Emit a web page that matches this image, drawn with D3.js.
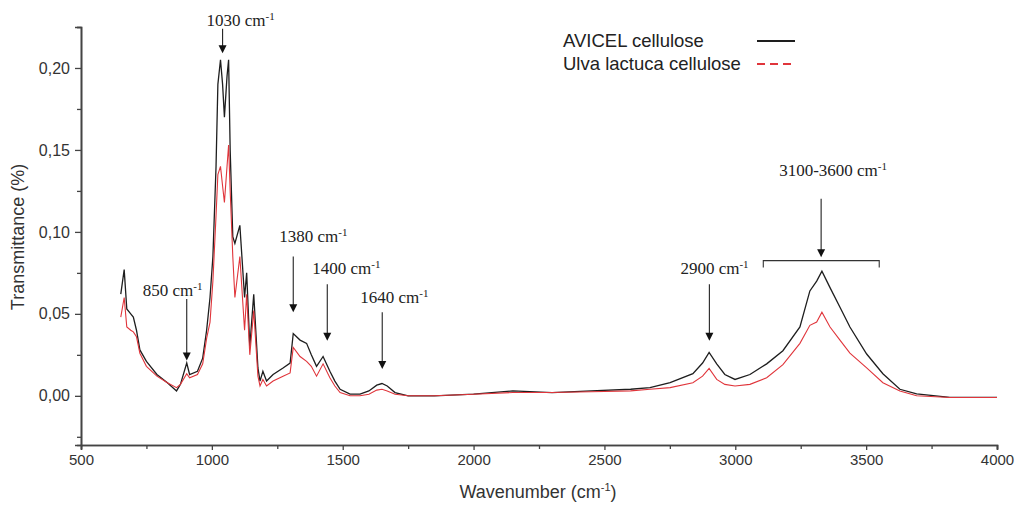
<!DOCTYPE html>
<html lang="en">
<head>
    <meta charset="UTF-8">
    <title>FTIR spectra</title>
    <script src="https://d3js.org/d3.v7.min.js"></script>
    <style>
        body { margin: 0; background: #fff; }
        text { font-family: "Liberation Sans", Arial, sans-serif; }
    </style>
</head>
<body>
    <script>
        // wavenumber grid (cm-1) shared by both spectra
        const wavenumbers = [652, 665, 675, 690, 700, 712, 725, 750, 790, 830, 865, 880, 904, 915, 945, 965, 980, 993,
                             1004, 1016, 1023, 1033, 1041, 1048, 1058, 1064, 1070, 1080, 1088, 1107, 1125, 1133, 1145, 1160,
                             1176, 1184, 1195, 1209, 1234, 1272, 1299, 1311, 1337, 1362, 1380, 1400, 1425, 1451, 1470,
                             1490, 1528, 1566, 1600, 1630, 1650, 1670, 1700, 1750, 1850, 2000, 2150, 2300, 2450, 2600,
                             2674, 2751, 2838, 2875, 2900, 2929, 2960, 2999, 3056, 3120, 3182, 3247, 3285, 3311, 3331,
                             3362, 3400, 3438, 3502, 3564, 3629, 3693, 3820, 4000];

        const avicel = [0.062, 0.077, 0.053, 0.050, 0.048, 0.040, 0.028, 0.021, 0.013, 0.008, 0.003, 0.007, 0.020, 0.013, 0.015, 0.023, 0.040, 0.060,
                        0.085, 0.140, 0.190, 0.205, 0.190, 0.170, 0.195, 0.205, 0.150, 0.097, 0.093, 0.104, 0.060, 0.075, 0.030, 0.062,
                        0.017, 0.009, 0.015, 0.009, 0.013, 0.017, 0.020, 0.038, 0.034, 0.032, 0.025, 0.018, 0.024, 0.015, 0.009,
                        0.004, 0.001, 0.001, 0.003, 0.0065, 0.0075, 0.006, 0.002, 0.000, 0.000, 0.001, 0.003, 0.002, 0.003, 0.004,
                        0.005, 0.008, 0.0135, 0.020, 0.0265, 0.0195, 0.013, 0.010, 0.013, 0.0195, 0.0275, 0.042, 0.064, 0.070, 0.076,
                        0.066, 0.054, 0.042, 0.0255, 0.0135, 0.004, 0.0012, -0.001, -0.001];

        const ulva = [0.048, 0.060, 0.042, 0.040, 0.039, 0.036, 0.026, 0.018, 0.012, 0.008, 0.005, 0.007, 0.0135, 0.011, 0.013, 0.0195, 0.035, 0.045,
                      0.070, 0.110, 0.135, 0.140, 0.128, 0.118, 0.140, 0.153, 0.125, 0.085, 0.060, 0.085, 0.040, 0.062, 0.025, 0.052,
                      0.012, 0.006, 0.010, 0.006, 0.009, 0.012, 0.014, 0.0295, 0.024, 0.021, 0.018, 0.012, 0.0195, 0.011, 0.006,
                      0.002, 0.000, 0.000, 0.001, 0.0035, 0.004, 0.003, 0.001, 0.000, 0.000, 0.001, 0.002, 0.002, 0.0025, 0.003,
                      0.004, 0.005, 0.008, 0.012, 0.0167, 0.010, 0.007, 0.006, 0.007, 0.011, 0.019, 0.032, 0.043, 0.045, 0.051,
                      0.042, 0.034, 0.026, 0.017, 0.008, 0.003, 0.000, -0.001, -0.001];

        const seriesNames = ["AVICEL cellulose", "Ulva lactuca cellulose"];
        const xTicks = [500, 1000, 1500, 2000, 2500, 3000, 3500, 4000];
        const yTicks = [0.00, 0.05, 0.10, 0.15, 0.20];

        // band labels: arrow wavenumber, arrow tip and tail (transmittance units)
        const bandLabels = ["850", "1030", "1380", "1400", "1640", "2900", "3100-3600"];
        const bandArrowAt = [904, 1041, 1311, 1441, 1651, 2901, 3328];
        const bandTip = [0.0215, 0.209, 0.051, 0.0336, 0.0163, 0.0336, 0.0846];
        const bandTail = [0.059, 0.224, 0.085, 0.068, 0.051, 0.068, 0.1203];
        const bracketRange = [3107, 3550];

        const w = 1015;
        const h = 506;

        const xScale = d3.scaleLinear().domain([500, 4000]).range([81, 997]);
        const yScale = d3.scaleLinear().domain([-0.03, 0.225]).range([445, 27]);

        const svg = d3.select("body").append("svg")
            .attr("width", w)
            .attr("height", h)
            .style("background", "#fff");

        const axisColor = "#444";
        const fmt = (d) => d3.format(".2f")(d).replace(".", ",");

        // minor ticks first, then major axes
        svg.append("g")
            .attr("transform", "translate(81,0)")
            .call(d3.axisLeft(yScale).tickValues(d3.range(-0.025, 0.2251, 0.05)).tickSize(4).tickFormat(""));
        svg.append("g")
            .attr("transform", "translate(0,445)")
            .call(d3.axisBottom(xScale).tickValues(d3.range(750, 4000, 500)).tickSize(4).tickFormat(""));

        const yAxis = svg.append("g")
            .attr("transform", "translate(81,0)")
            .call(d3.axisLeft(yScale).tickValues(yTicks).tickSize(6).tickPadding(5).tickFormat(fmt));
        yAxis.selectAll("text").style("font-size", "16px").attr("fill", "#333");

        const xAxis = svg.append("g")
            .attr("transform", "translate(0,445)")
            .call(d3.axisBottom(xScale).tickValues(xTicks).tickSize(5).tickPadding(4).tickFormat(d3.format("d")));
        xAxis.selectAll("text").style("font-size", "15px").attr("fill", "#333");

        svg.selectAll(".domain").attr("stroke", axisColor).attr("stroke-width", 1.6);
        svg.selectAll(".tick line").attr("stroke", axisColor).attr("stroke-width", 1.3);

        // axis titles
        svg.append("text")
            .attr("transform", "translate(24,237) rotate(-90)")
            .attr("text-anchor", "middle")
            .style("font-size", "18px")
            .attr("fill", "#333")
            .text("Transmittance (%)");

        const xt = svg.append("text")
            .attr("x", 538)
            .attr("y", 498)
            .attr("text-anchor", "middle")
            .style("font-size", "18px")
            .attr("fill", "#333");
        xt.append("tspan").text("Wavenumber (cm");
        xt.append("tspan").attr("dy", -7).style("font-size", "11px").text("-1");
        xt.append("tspan").attr("dy", 7).text(")");

        // spectra
        const line = (vals) => d3.line()
            .x((d, i) => xScale(wavenumbers[i]))
            .y((d) => yScale(d))(vals);

        svg.append("path")
            .attr("d", line(avicel))
            .attr("fill", "none")
            .attr("stroke", "#1e1e1e")
            .attr("stroke-width", 1.3);

        svg.append("path")
            .attr("d", line(ulva))
            .attr("fill", "none")
            .attr("stroke", "#e0353b")
            .attr("stroke-width", 1.1);

        // band annotations
        const labelDx = [-44, -16, -14, -15, -22, -29, -42];
        const labelDy = [-3, -3, -14, -10, -9, -10, -23];

        bandLabels.forEach((lab, i) => {
            const ax = xScale(bandArrowAt[i]);
            const tip = yScale(bandTip[i]);
            const tail = yScale(bandTail[i]);
            svg.append("line")
                .attr("x1", ax).attr("x2", ax)
                .attr("y1", tail).attr("y2", tip - 6)
                .attr("stroke", "#222")
                .attr("stroke-width", 1.1);
            svg.append("path")
                .attr("d", `M${ax - 4},${tip - 8}L${ax + 4},${tip - 8}L${ax},${tip}Z`)
                .attr("fill", "#111");
            const t = svg.append("text")
                .attr("x", ax + labelDx[i])
                .attr("y", tail + labelDy[i])
                .style("font-family", "'Liberation Serif', 'Times New Roman', serif")
                .style("font-size", "17px")
                .attr("fill", "#222");
            t.append("tspan").text(lab + " cm");
            t.append("tspan").attr("dy", -6).style("font-size", "11px").text("-1");
        });

        // bracket over 3100-3600 band
        const by = yScale(0.0825);
        svg.append("path")
            .attr("d", `M${xScale(bracketRange[0])},${by + 7}V${by}H${xScale(bracketRange[1])}V${by + 7}`)
            .attr("fill", "none")
            .attr("stroke", "#333")
            .attr("stroke-width", 1.1);

        // legend
        const legend = svg.append("g").attr("transform", "translate(563,0)");
        legend.selectAll("text")
            .data(seriesNames)
            .enter()
            .append("text")
            .attr("x", 0)
            .attr("y", (d, i) => 47 + i * 23)
            .style("font-size", "18.5px")
            .attr("fill", "#222")
            .text((d) => d);
        legend.append("line")
            .attr("x1", 194).attr("x2", 232)
            .attr("y1", 41).attr("y2", 41)
            .attr("stroke", "#1e1e1e").attr("stroke-width", 2);
        legend.append("line")
            .attr("x1", 194).attr("x2", 232)
            .attr("y1", 64).attr("y2", 64)
            .attr("stroke", "#e0353b").attr("stroke-width", 2)
            .attr("stroke-dasharray", "8,5");
    </script>
</body>
</html>
